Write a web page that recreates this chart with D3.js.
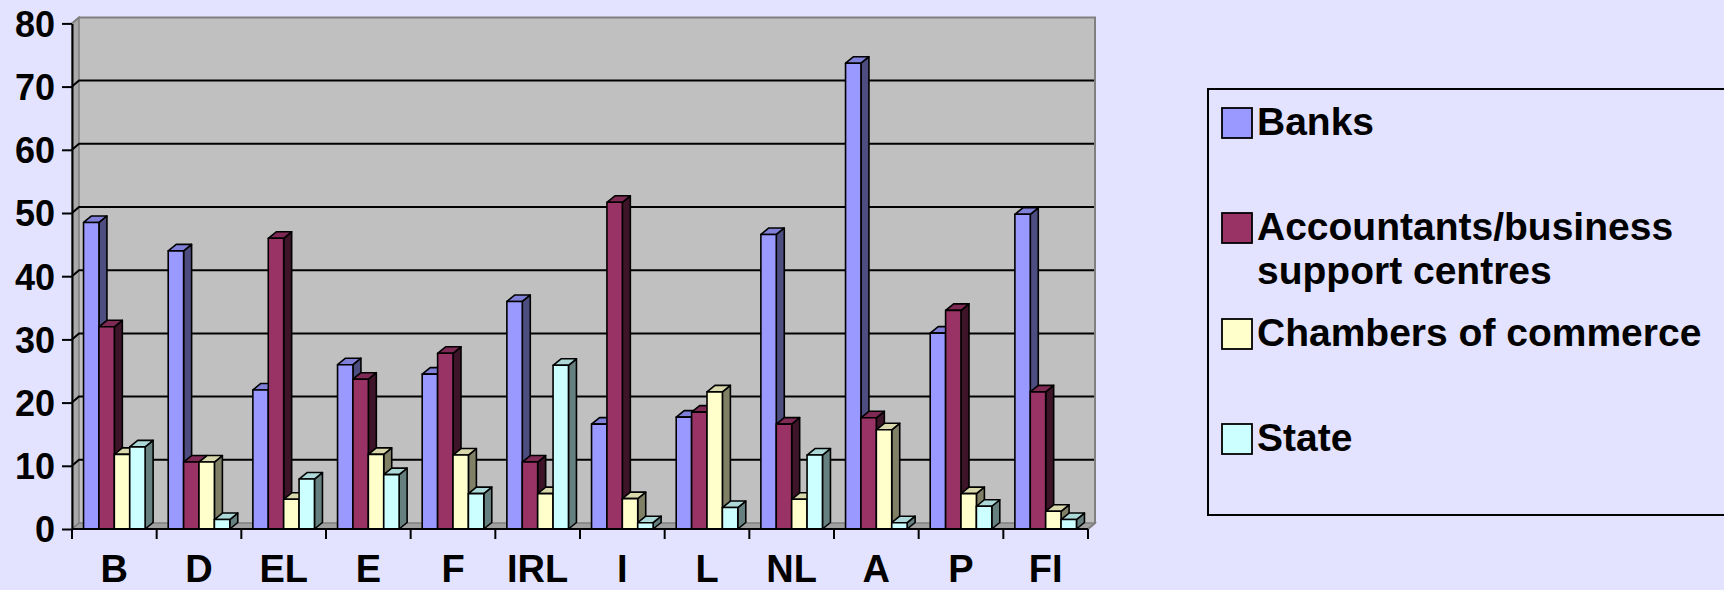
<!DOCTYPE html>
<html>
<head>
<meta charset="utf-8">
<script src="https://cdn.jsdelivr.net/npm/d3@7"></script>
<style>
  html, body { margin: 0; padding: 0; background: #E3E3FF; }
  svg { display: block; }
  text { font-family: "Liberation Sans", Arial, sans-serif; font-weight: bold; fill: #000; }
</style>
</head>
<body>
<svg id="chart" width="1724" height="590"></svg>
<script>
// Countries along the category axis
const categories = ["B", "D", "EL", "E", "F", "IRL", "I", "L", "NL", "A", "P", "FI"];

// Series names (legend order)
const seriesNames = ["Banks", "Accountants/business support centres", "Chambers of commerce", "State"];

// Values per series, one per country
const banks       = [48.5, 44, 22, 26, 24.5, 36, 16.6, 17.7, 46.6, 73.7, 31, 49.8];
const accountants = [32, 10.6, 46, 23.7, 27.8, 10.6, 51.7, 18.5, 16.6, 17.6, 34.6, 21.7];
const chambers    = [11.8, 10.6, 4.7, 11.8, 11.7, 5.6, 4.8, 21.7, 4.7, 15.7, 5.6, 2.8];
const state       = [13, 1.5, 7.9, 8.6, 5.6, 25.9, 1.0, 3.4, 11.7, 1.0, 3.6, 1.5];

// Value axis ticks
const yTicks = [0, 10, 20, 30, 40, 50, 60, 70, 80];

const seriesValues = [banks, accountants, chambers, state];
const frontColors = ["#9999FF", "#993366", "#FFFFCC", "#CCFFFF"];
const topColors   = ["#8080D8", "#7F2A55", "#D8D8AC", "#ACD8D8"];
const sideColors  = ["#4D4D80", "#3D1428", "#808066", "#668080"];

const svg = d3.select("#chart");

const x0 = d3.scaleBand().domain(categories).range([72, 1088]);
const x1 = d3.scaleBand().domain(d3.range(seriesNames.length))
  .range([0, x0.bandwidth()]).paddingInner(0).paddingOuter(0.75);
const y = d3.scaleLinear().domain([0, 80]).range([529, 23.4]);

// depth offsets of the oblique projection
const wall = { dx: 7, dy: -6 };
const bar = { dx: 8, dy: -6.5 };

const xL = x0.range()[0], xR = x0.range()[1];
const yTop = y(80), yBot = y(0);

// back wall
svg.append("path")
  .attr("d", `M${xL + wall.dx},${yTop + wall.dy} L${xR + wall.dx},${yTop + wall.dy} L${xR + wall.dx},${yBot + wall.dy} L${xL + wall.dx},${yBot + wall.dy} Z`)
  .attr("fill", "#C0C0C0");

// left side wall
svg.append("path")
  .attr("d", `M${xL},${yTop} L${xL + wall.dx},${yTop + wall.dy} L${xL + wall.dx},${yBot + wall.dy} L${xL},${yBot} Z`)
  .attr("fill", "#A9A9A9").attr("stroke", "#808080").attr("stroke-width", 1.5);

// floor
svg.append("path")
  .attr("d", `M${xL},${yBot} L${xR},${yBot} L${xR + wall.dx},${yBot + wall.dy} L${xL + wall.dx},${yBot + wall.dy} Z`)
  .attr("fill", "#A0A0A0").attr("stroke", "#808080").attr("stroke-width", 1.5);

// gridlines on the back wall and their continuation on the side wall
const gridVals = yTicks.filter(v => v > 0 && v < 80);
svg.append("g").selectAll("path").data(gridVals).join("path")
  .attr("d", v => `M${xL},${y(v)} L${xL + wall.dx},${y(v) + wall.dy} L${xR + wall.dx},${y(v) + wall.dy}`)
  .attr("fill", "none").attr("stroke", "#000").attr("stroke-width", 2);

// wall border (top and right edge)
svg.append("path")
  .attr("d", `M${xL},${yTop} L${xL + wall.dx},${yTop + wall.dy} L${xR + wall.dx},${yTop + wall.dy} L${xR + wall.dx},${yBot + wall.dy} L${xR},${yBot}`)
  .attr("fill", "none").attr("stroke", "#808080").attr("stroke-width", 2);

// bars, drawn left to right so each front face hides the previous bar's side
const barData = [];
categories.forEach((c, i) => {
  seriesValues.forEach((vals, s) => {
    barData.push({ c, s, v: vals[i] });
  });
});

const gBars = svg.append("g");
barData.forEach(d => {
  const bx = x0(d.c) + x1(d.s);
  const bw = x1.bandwidth();
  const by = y(d.v);
  const b0 = y(0);
  const g = gBars.append("g")
    .attr("stroke", "#000").attr("stroke-width", 1.6).attr("stroke-linejoin", "round");
  // side face
  g.append("path")
    .attr("d", `M${bx + bw},${by} L${bx + bw + bar.dx},${by + bar.dy} L${bx + bw + bar.dx},${b0 + bar.dy} L${bx + bw},${b0} Z`)
    .attr("fill", sideColors[d.s]);
  // top face
  g.append("path")
    .attr("d", `M${bx},${by} L${bx + bar.dx},${by + bar.dy} L${bx + bw + bar.dx},${by + bar.dy} L${bx + bw},${by} Z`)
    .attr("fill", topColors[d.s]);
  // front face
  g.append("rect")
    .attr("x", bx).attr("y", by).attr("width", bw).attr("height", b0 - by)
    .attr("fill", frontColors[d.s]);
});

// value axis
const yAxis = svg.append("g")
  .attr("transform", `translate(${xL},0)`)
  .call(d3.axisLeft(y).tickValues(yTicks).tickSize(10).tickSizeOuter(0).tickPadding(7));
yAxis.select(".domain").attr("stroke", "#000").attr("stroke-width", 2);
yAxis.selectAll(".tick line").attr("stroke", "#000").attr("stroke-width", 2);
yAxis.selectAll(".tick text")
  .style("font-family", "'Liberation Sans', Arial, sans-serif")
  .style("font-weight", "bold").style("font-size", "36px").attr("fill", "#000")
  .attr("dy", "0.36em");

// category axis: line with ticks on band boundaries, labels at band centres
svg.append("line")
  .attr("x1", xL).attr("x2", xR).attr("y1", yBot).attr("y2", yBot)
  .attr("stroke", "#000").attr("stroke-width", 2);
const boundaries = categories.map(c => x0(c)).concat([xR]);
svg.append("g").selectAll("line").data(boundaries).join("line")
  .attr("x1", d => d).attr("x2", d => d)
  .attr("y1", yBot).attr("y2", yBot + 10)
  .attr("stroke", "#000").attr("stroke-width", 2);

const xAxis = svg.append("g")
  .attr("transform", `translate(0,${yBot})`)
  .call(d3.axisBottom(x0).tickSize(0).tickPadding(0));
xAxis.select(".domain").remove();
xAxis.selectAll(".tick text")
  .style("font-family", "'Liberation Sans', Arial, sans-serif")
  .style("font-weight", "bold").style("font-size", "38px").attr("fill", "#000")
  .attr("dy", null).attr("y", 53);

// legend
const legend = svg.append("g");
legend.append("rect")
  .attr("x", 1208).attr("y", 89).attr("width", 540).attr("height", 426)
  .attr("fill", "none").attr("stroke", "#000").attr("stroke-width", 2);

const legendLines = [["Banks"], ["Accountants/business", "support centres"], ["Chambers of commerce"], ["State"]];
const legendBaselines = [135, 240, 346, 451];
legendLines.forEach((lines, i) => {
  legend.append("rect")
    .attr("x", 1222).attr("y", legendBaselines[i] - 27).attr("width", 30).attr("height", 30)
    .attr("fill", frontColors[i]).attr("stroke", "#000").attr("stroke-width", 1.8);
  const t = legend.append("text")
    .attr("x", 1257).attr("y", legendBaselines[i])
    .style("font-size", "39px");
  lines.forEach((ln, k) => {
    t.append("tspan").attr("x", 1257).attr("dy", k === 0 ? 0 : 44).text(ln);
  });
});
</script>
</body>
</html>
